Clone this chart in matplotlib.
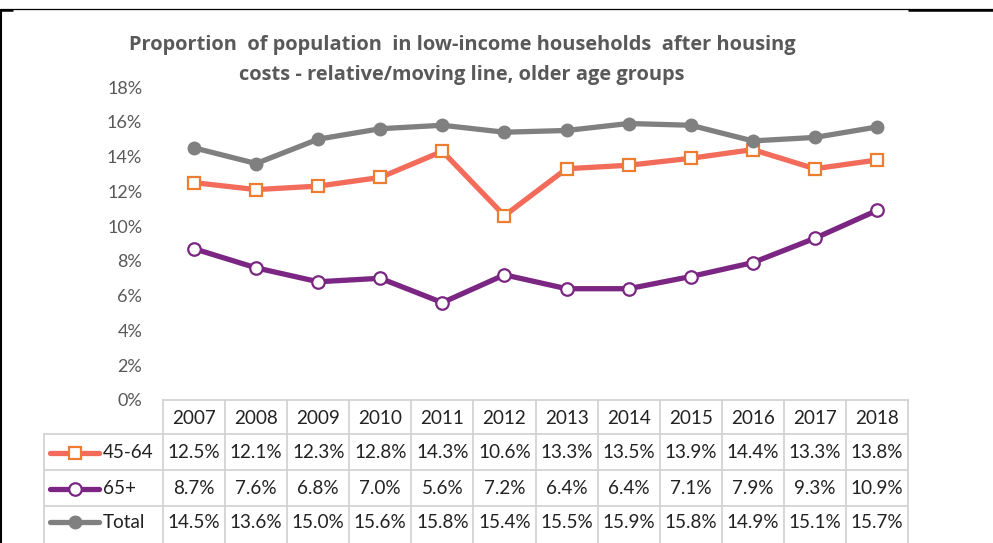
import matplotlib
matplotlib.use("Agg")
import matplotlib.pyplot as plt
import matplotlib.transforms as mtransforms
from matplotlib.ticker import FuncFormatter

plt.rcParams['font.family'] = ['Lato', 'DejaVu Sans']

years = ["2007", "2008", "2009", "2010", "2011", "2012",
         "2013", "2014", "2015", "2016", "2017", "2018"]
age_45_64 = [12.5, 12.1, 12.3, 12.8, 14.3, 10.6, 13.3, 13.5, 13.9, 14.4, 13.3, 13.8]
age_65_plus = [8.7, 7.6, 6.8, 7.0, 5.6, 7.2, 6.4, 6.4, 7.1, 7.9, 9.3, 10.9]
total = [14.5, 13.6, 15.0, 15.6, 15.8, 15.4, 15.5, 15.9, 15.8, 14.9, 15.1, 15.7]
series_names = ["45-64", "65+", "Total"]

title_lines = ["Proportion  of population  in low-income households  after housing",
               "costs - relative/moving line, older age groups"]

W, H = 993, 543
fig = plt.figure(figsize=(W / 100, H / 100), dpi=100)

text_grey = "#595959"
grid_grey = "#D0D0D0"

styles = [
    dict(color="#F26B5B", marker="s", mfc="white", mec="#ED7D31", ms=9.3, mew=1.6),
    dict(color="#7B2682", marker="o", mfc="white", mec="#7B2682", ms=9.0, mew=1.6),
    dict(color="#808080", marker="o", mfc="#808080", mec="#808080", ms=9.0, mew=1.0),
]
values = [age_45_64, age_65_plus, total]

# plot area in pixel units
px_left, px_right, px_top, px_bottom = 163, 908, 87, 400
ax = fig.add_axes([px_left / W, (H - px_bottom) / H,
                   (px_right - px_left) / W, (px_bottom - px_top) / H])
x = list(range(len(years)))
for vals, st in zip(values, styles):
    ax.plot(x, vals, lw=3.8, solid_capstyle="round", solid_joinstyle="round",
            zorder=3, **st)

ax.set_xlim(-0.5, len(years) - 0.5)
ax.set_ylim(0, 18)
ax.set_yticks(range(0, 19, 2))
ax.yaxis.set_major_formatter(FuncFormatter(lambda v, p: f"{v:.0f}%"))
ax.tick_params(axis="y", length=0, pad=15, labelsize=13, labelcolor=text_grey)
ax.set_xticks([])
for s in ax.spines.values():
    s.set_visible(False)
ax.patch.set_alpha(0)

# overlay in pixel coordinates for the data table and frame
tab = fig.add_axes([0, 0, 1, 1], zorder=-1)
tab.set_xlim(0, W)
tab.set_ylim(H, 0)
tab.axis("off")
blend = mtransforms.blended_transform_factory(ax.transData, tab.transData)

row_edges = [400, 434, 470, 506, H]
legend_left = 44
n = len(years)
# vertical cell borders
for i in range(n + 1):
    tab.plot([i - 0.5, i - 0.5], [row_edges[0], H], color=grid_grey, lw=1.2,
             transform=blend)
tab.plot([legend_left, legend_left], [row_edges[1], H], color=grid_grey, lw=1.2)
# horizontal cell borders
tab.plot([-0.5, n - 0.5], [row_edges[0], row_edges[0]], color=grid_grey, lw=1.2,
         transform=blend)
for y in row_edges[1:4]:
    tab.plot([legend_left, px_right], [y, y], color=grid_grey, lw=1.2)

cell_fs = 13.6
cell_color = "#222222"
header_y = (row_edges[0] + row_edges[1]) / 2 + 1
for i, yr in enumerate(years):
    tab.text(i, header_y, yr, transform=blend, ha="center", va="center",
             fontsize=cell_fs, color=cell_color)

for r, (name, vals, st) in enumerate(zip(series_names, values, styles)):
    yc = (row_edges[r + 1] + row_edges[r + 2]) / 2 + 1
    if r == 2:
        yc = 522
    for i, v in enumerate(vals):
        tab.text(i, yc, f"{v:.1f}%", transform=blend, ha="center", va="center",
                 fontsize=cell_fs, color=cell_color)
    tab.plot([50, 99], [yc, yc], lw=3.8, solid_capstyle="round", **st,
             markevery=[])
    tab.plot([74.5], [yc], ls="none", **{k: v for k, v in st.items() if k != "color"})
    tab.text(103, yc, name, ha="left", va="center", fontsize=cell_fs,
             color=cell_color)

# title
for line, ty in zip(title_lines, [45, 75]):
    tab.text(462, ty, line, ha="center", va="center", fontsize=14.4,
             fontweight="bold", color=text_grey, family=["Open Sans", "DejaVu Sans"])

# outer frame
tab.plot([0, W], [9, 9], color="black", lw=0.9, solid_capstyle="butt")
tab.plot([0, 13], [9.5, 9.5], color="black", lw=1.8, solid_capstyle="butt")
tab.plot([908, W], [9.5, 9.5], color="black", lw=1.8, solid_capstyle="butt")
tab.plot([0.8, 0.8], [9, H], color="black", lw=1.5, solid_capstyle="butt")

fig.savefig("out.png", dpi=100)
